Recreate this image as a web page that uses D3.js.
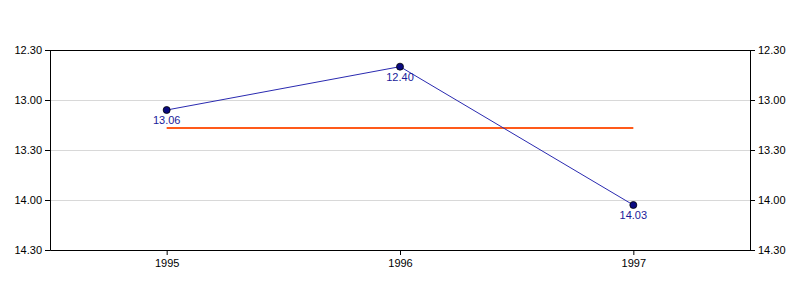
<!DOCTYPE html>
<html>
<head>
<meta charset="utf-8">
<script src="https://cdn.jsdelivr.net/npm/d3@7"></script>
<style>
  body { margin: 0; background: #fff; }
  text { font-family: "Liberation Sans", Arial, sans-serif; }
</style>
</head>
<body>
<svg id="chart" width="800" height="300"></svg>
<script>
// times are stored in seconds, shown as minutes.seconds
const years = ["1995", "1996", "1997"];
const times = [786, 760, 843]; // 13.06, 12.40, 14.03
const averageTime = 797; // orange reference line
const majorTicks = [750, 780, 810, 840, 870];

const width = 800, height = 300;
const margin = { top: 50, right: 50, bottom: 50, left: 50 };

const svg = d3.select("#chart");

const x = d3.scalePoint()
  .domain(years)
  .range([margin.left, width - margin.right])
  .padding(0.5);

const y = d3.scaleLinear()
  .domain([750, 870])
  .range([margin.top, height - margin.bottom]);

const fmt = (s) => {
  const m = Math.floor(s / 60);
  const sec = Math.round(s - m * 60);
  return m + "." + String(sec).padStart(2, "0");
};

const minorTicks = d3.range(750, 871, 6).filter((d) => !majorTicks.includes(d));

// gridlines
svg.append("g")
  .selectAll("line")
  .data(majorTicks.slice(1, -1))
  .join("line")
  .attr("x1", margin.left)
  .attr("x2", width - margin.right)
  .attr("y1", (d) => Math.round(y(d)) + 0.5)
  .attr("y2", (d) => Math.round(y(d)) + 0.5)
  .attr("stroke", "#d8d8d8");

// left axis
const left = svg.append("g").attr("transform", `translate(${margin.left},0)`);
left.call(d3.axisLeft(y).tickValues(minorTicks).tickSize(3).tickFormat(""));
left.call(d3.axisLeft(y).tickValues(majorTicks).tickSize(5).tickFormat(fmt));

const right = svg.append("g").attr("transform", `translate(${width - margin.right},0)`);
right.call(d3.axisRight(y).tickValues(minorTicks).tickSize(3).tickFormat(""));
right.call(d3.axisRight(y).tickValues(majorTicks).tickSize(5).tickFormat(fmt));

const bottom = svg.append("g").attr("transform", `translate(0,${height - margin.bottom})`);
bottom.call(d3.axisBottom(x).tickSize(5).tickSizeOuter(0));

svg.selectAll(".domain").attr("stroke", "#000");
svg.selectAll(".tick line").attr("stroke", "#000");
svg.selectAll(".tick text")
  .attr("fill", "#000")
  .style("font-size", "11px")
  .style("font-family", "'Liberation Sans', Arial, sans-serif");
left.selectAll(".tick text").attr("x", -8);
right.selectAll(".tick text").attr("x", 8);
bottom.selectAll(".tick text").attr("y", 9);

// top frame line
svg.append("line")
  .attr("x1", margin.left)
  .attr("x2", width - margin.right)
  .attr("y1", margin.top + 0.5)
  .attr("y2", margin.top + 0.5)
  .attr("stroke", "#000");

// average line
svg.append("line")
  .attr("x1", x(years[0]))
  .attr("x2", x(years[years.length - 1]))
  .attr("y1", Math.round(y(averageTime)))
  .attr("y2", Math.round(y(averageTime)))
  .attr("stroke", "#ff5a1a")
  .attr("stroke-width", 2);

const pts = years.map((yr, i) => ({ yr, t: times[i] }));

svg.append("path")
  .datum(pts)
  .attr("fill", "none")
  .attr("stroke", "#2a2ab0")
  .attr("stroke-width", 1)
  .attr("d", d3.line().x((d) => x(d.yr)).y((d) => y(d.t)));

svg.append("g")
  .selectAll("circle")
  .data(pts)
  .join("circle")
  .attr("cx", (d) => x(d.yr))
  .attr("cy", (d) => y(d.t))
  .attr("r", 3.5)
  .attr("fill", "#0a0a80")
  .attr("stroke", "#000")
  .attr("stroke-width", 0.8);

svg.append("g")
  .selectAll("text")
  .data(pts)
  .join("text")
  .attr("x", (d) => x(d.yr))
  .attr("y", (d) => y(d.t) + 14)
  .attr("text-anchor", "middle")
  .attr("fill", "#1a1a9a")
  .style("font-size", "11px")
  .text((d) => fmt(d.t));
</script>
</body>
</html>
